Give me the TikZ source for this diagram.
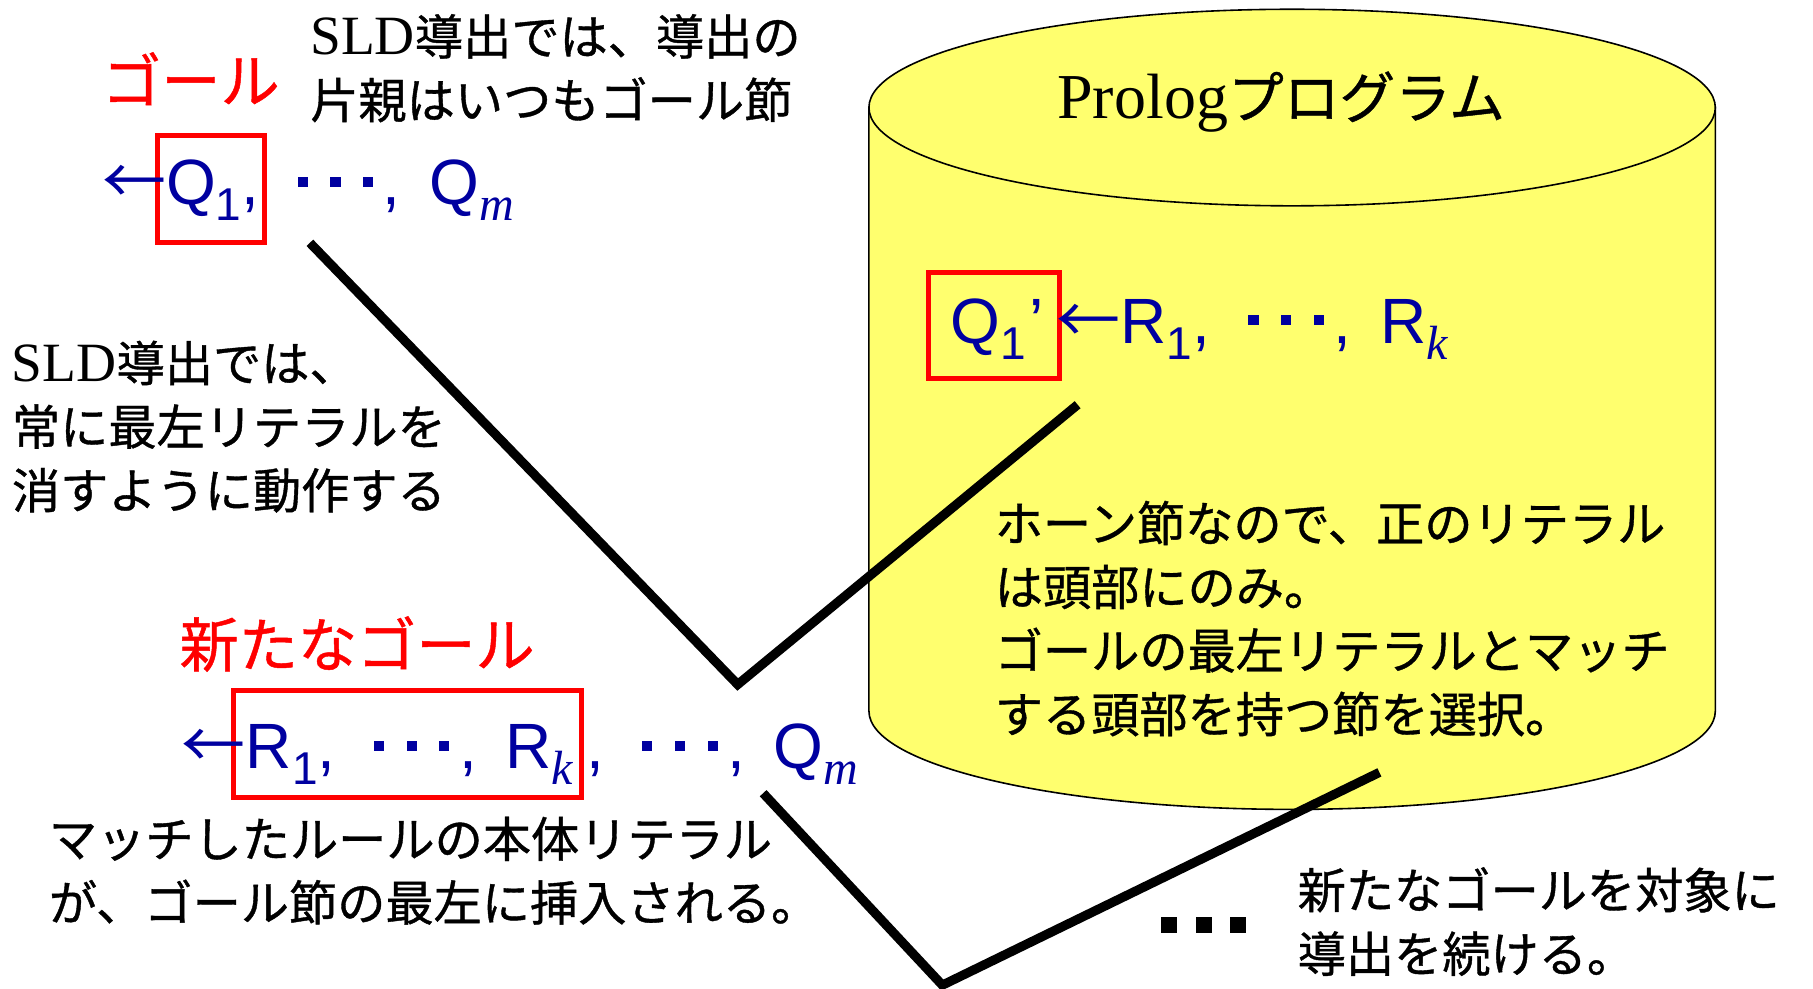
\documentclass[tikz,border=0pt]{standalone}
\usepackage{fontspec}
\setmainfont{Liberation Serif}
\newfontfamily\jp{Noto Sans CJK JP}[Scale=0.87,FakeBold=0.8]
\newfontfamily\jpa{Noto Sans CJK JP}
\newfontfamily\lsans{Liberation Sans}
\definecolor{goalred}{RGB}{255,0,0}
\definecolor{litblue}{RGB}{0,0,160}
\definecolor{cylyellow}{RGB}{255,255,110}
\newcommand\sqd{\rule[0.28em]{0.16em}{0.16em}}
\newcommand\sqdots{\sqd\hspace{0.35em}\sqd\hspace{0.35em}\sqd}
\newcommand\bigsqd{\rule{0.35em}{0.35em}}
\newcommand\bigsqdots{\bigsqd\hspace{0.4em}\bigsqd\hspace{0.4em}\bigsqd}
\newcommand\sbn[1]{\raisebox{-0.25em}{\fontsize{23}{23}\selectfont #1}}
\newcommand\sbi[1]{\raisebox{-0.25em}{\fontsize{24}{24}\selectfont\rmfamily\itshape #1}}
\newcommand\gapa{\hspace{0.6em}}
\newcommand\gapb{\hspace{0.15em}}
\newcommand\gapc{\hspace{0.45em}}
\tikzset{
 blacktext/.style={font=\fontsize{27.7}{31.8}\selectfont\jp, align=left, inner sep=0pt, anchor=west, text=black},
 redtext/.style={font=\fontsize{34}{38}\selectfont\jp, inner sep=0pt, anchor=west, text=goalred},
 formula/.style={font=\fontsize{32}{36}\selectfont\lsans, inner sep=0pt, anchor=base west, text=litblue},
 redbox/.style={draw=goalred, line width=2.4pt},
 conn/.style={line width=4.6pt, line join=miter},
 cyl/.style={fill=cylyellow, draw=black, line width=0.8pt},
}
\begin{document}
\begin{tikzpicture}[x=0.578pt,y=-0.578pt]
\useasboundingbox[fill=white] (0,0) rectangle (1568,855);
% cylinder
\path[cyl] (751.5,93) -- (751.5,615) arc[start angle=180,end angle=0,x radius=366,y radius=85] -- (1483.5,93) -- cycle;
\path[cyl] (1117.5,93) ellipse[x radius=366,y radius=85];
\node[font=\fontsize{32}{36}\selectfont\rmfamily, inner sep=0pt] (title) at (1108,88) {Prolog{\jp プログラム}};
% connectors
\coordinate (v1a) at (268,210);
\coordinate (v1b) at (638,592);
\coordinate (v1c) at (932,350);
\draw[conn] (v1a) -- (v1b) -- (v1c);
\coordinate (v2a) at (660,686);
\coordinate (v2b) at (815,852);
\coordinate (v2c) at (1193,668);
\draw[conn] (v2a) -- (v2b) -- (v2c);
% red boxes
\draw[redbox] (136,117) rectangle (229,210);
\draw[redbox] (803,236) rectangle (916,327);
\draw[redbox] (202,597) rectangle (503,690);
% formulas
\node[formula] (goal) at (88,177) {{\jpa ←}Q\sbn{1},\gapa\sqdots\gapb,\gapc Q\sbi{m}};
\node[formula] (rule) at (822,297) {Q\sbn{1}\hspace{0.05em}’\hspace{0.2em}{\jpa ←}R\sbn{1},\gapa\sqdots\gapb,\gapc R\sbi{k}};
\node[formula] (newgoal) at (157,665) {{\jpa ←}R\sbn{1},\gapa\sqdots\gapb,\gapc R\sbi{k}\hspace{0.2em},\hspace{0.6em}\sqdots\gapb,\gapc Q\sbi{m}};
% labels
\node[redtext] (goallabel) at (88,68) {ゴール};
\node[redtext] (newgoallabel) at (155,557) {新たなゴール};
\node[blacktext] (sldnote) at (268,59) {{\rmfamily SLD}導出では、導出の\\片親はいつもゴール節};
\node[blacktext] (leftmost) at (10,369) {{\rmfamily SLD}導出では、\\常に最左リテラルを\\消すように動作する};
\node[blacktext] (horn) at (860,535) {ホーン節なので、正のリテラル\\は頭部にのみ。\\ゴールの最左リテラルとマッチ\\する頭部を持つ節を選択。};
\node[blacktext] (inserted) at (42,753) {マッチしたルールの本体リテラル\\が、ゴール節の最左に挿入される。};
\node[blacktext] (continue) at (1122,797) {新たなゴールを対象に\\導出を続ける。};
\node[font=\fontsize{23}{23}\selectfont, inner sep=0pt] (more) at (1041,800) {\bigsqdots};
\end{tikzpicture}
\end{document}
